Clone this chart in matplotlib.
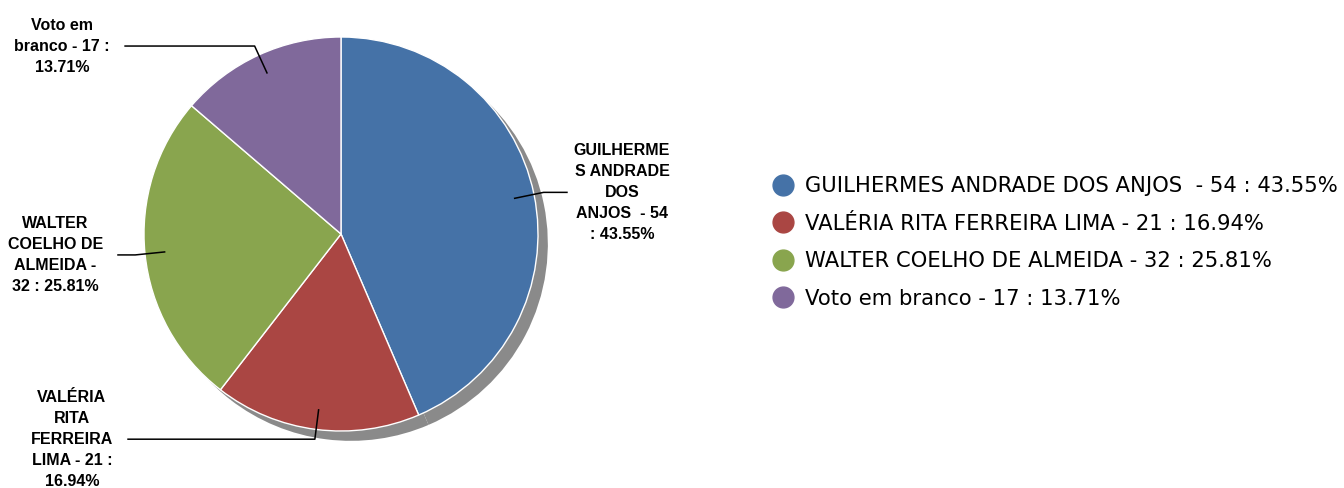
import numpy as np
import matplotlib
matplotlib.use('Agg')
import matplotlib.pyplot as plt
from matplotlib.lines import Line2D

# dados da votação
nomes = ['GUILHERMES ANDRADE DOS ANJOS ', 'VALÉRIA RITA FERREIRA LIMA',
         'WALTER COELHO DE ALMEIDA', 'Voto em branco']
votos = [54, 21, 32, 17]
percentuais = ['43.55%', '16.94%', '25.81%', '13.71%']
rotulos = ['GUILHERME\nS ANDRADE\nDOS\nANJOS  - 54\n: 43.55%',
           'VALÉRIA\nRITA\nFERREIRA\nLIMA - 21 :\n16.94%',
           'WALTER\nCOELHO DE\nALMEIDA -\n32 : 25.81%',
           'Voto em\nbranco - 17 :\n13.71%']
cores = ['#4572A7', '#AA4643', '#89A54E', '#80699B']

# fim da linha horizontal de cada rótulo (em raios)
fim_linha = [1.147, -1.081, -1.132, -1.096]

W, H = 1344, 488
cx, cy, R = 341, 234, 197   # centro e raio em pixels

fig = plt.figure(figsize=(W / 100, H / 100), dpi=100)
ax = fig.add_axes([0, 0, 1, 1])
ax.axis('off')

# sombra
ax.pie(votos, radius=1, center=(0.05, -0.05), colors=['#8a8a8a'] * 4,
       startangle=90, counterclock=False, wedgeprops={'linewidth': 0})

wedges, _ = ax.pie(votos, radius=1, colors=cores, startangle=90,
                   counterclock=False,
                   wedgeprops={'edgecolor': 'white', 'linewidth': 1.0})
ax.set_xlim(-cx / R, (W - cx) / R)
ax.set_ylim(-(H - cy) / R, cy / R)
ax.set_aspect('auto')

# rótulos com linhas de ligação
for w, rot, xf in zip(wedges, rotulos, fim_linha):
    ang = np.deg2rad((w.theta1 + w.theta2) / 2)
    x0, y0 = 0.9 * np.cos(ang), 0.9 * np.sin(ang)
    x1, y1 = 1.05 * np.cos(ang), 1.05 * np.sin(ang)
    ax.plot([x0, x1, xf], [y0, y1, y1], color='black', lw=1.1)
    if xf > 0:
        ax.text(xf + 0.035, y1, rot, ha='left', va='center',
                multialignment='center', fontsize=11.5, fontweight='bold',
                family='Liberation Sans', linespacing=1.5)
    else:
        ax.text(xf - 0.076, y1, rot, ha='right', va='center',
                multialignment='center', fontsize=11.5, fontweight='bold',
                family='Liberation Sans', linespacing=1.5)

# legenda
handles = [Line2D([], [], marker='o', linestyle='none', markersize=15,
                  markerfacecolor=c, markeredgecolor=c) for c in cores]
labels = [f'{n} - {v} : {p}' for n, v, p in zip(nomes, votos, percentuais)]
fig.legend(handles, labels, loc='center left', bbox_to_anchor=(0.559, 0.503),
           frameon=False, labelspacing=0.83, handletextpad=0.435,
           handlelength=1.2, prop={'family': 'DejaVu Sans', 'size': 15.2})

fig.savefig('out.png', dpi=100)
